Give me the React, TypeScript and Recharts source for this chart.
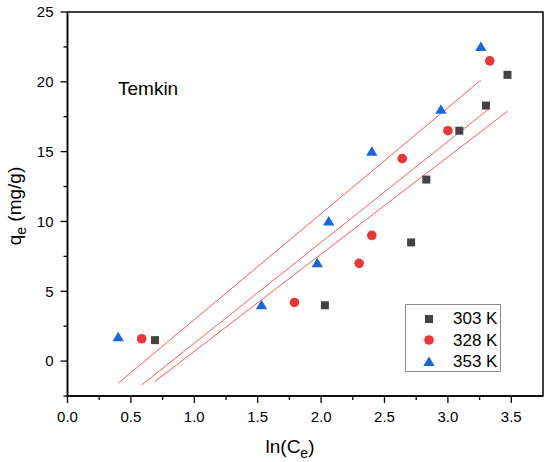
import React from 'react';
import { ScatterChart, Scatter, XAxis, YAxis, ReferenceArea, Legend } from 'recharts';

// ---- data ----
const seriesNames = ['303 K', '328 K', '353 K'];

const lnCe303 = [0.69, 2.03, 2.71, 2.83, 3.09, 3.3, 3.47];
const qe303 = [1.5, 4.0, 8.5, 13.0, 16.5, 18.3, 20.5];

const lnCe328 = [0.585, 1.79, 2.3, 2.4, 2.64, 3.0, 3.33];
const qe328 = [1.6, 4.2, 7.0, 9.0, 14.5, 16.5, 21.5];

const lnCe353 = [0.4, 1.53, 1.97, 2.06, 2.4, 2.945, 3.26];
const qe353 = [1.7, 4.0, 7.0, 10.0, 15.0, 18.0, 22.5];

const xMajorTicks = [0, 0.5, 1, 1.5, 2, 2.5, 3, 3.5];
const xMinorTicks = [0.25, 0.75, 1.25, 1.75, 2.25, 2.75, 3.25];
const yMajorTicks = [0, 5, 10, 15, 20, 25];
const yMinorTicks = [-2.5, 2.5, 7.5, 12.5, 17.5, 22.5];

const xDomain: [number, number] = [0, 3.75];
const yDomain: [number, number] = [-2.5, 25];

// ---- helpers ----
const toPoints = (xs: number[], ys: number[]) => xs.map((x, i) => ({ x, y: ys[i] }));

// least-squares linear fit over the series' x range
const linearFit = (xs: number[], ys: number[]) => {
  const n = xs.length;
  const mx = xs.reduce((a, b) => a + b, 0) / n;
  const my = ys.reduce((a, b) => a + b, 0) / n;
  let sxy = 0;
  let sxx = 0;
  for (let i = 0; i < n; i++) {
    sxy += (xs[i] - mx) * (ys[i] - my);
    sxx += (xs[i] - mx) * (xs[i] - mx);
  }
  const slope = sxy / sxx;
  const icpt = my - slope * mx;
  const x0 = Math.min(...xs);
  const x1 = Math.max(...xs);
  return [
    { x: x0, y: icpt + slope * x0 },
    { x: x1, y: icpt + slope * x1 },
  ];
};

const pts303 = toPoints(lnCe303, qe303);
const pts328 = toPoints(lnCe328, qe328);
const pts353 = toPoints(lnCe353, qe353);
const fit303 = linearFit(lnCe303, qe303);
const fit328 = linearFit(lnCe328, qe328);
const fit353 = linearFit(lnCe353, qe353);

const xTicks = [...xMajorTicks, ...xMinorTicks].sort((a, b) => a - b);
const yTicks = [...yMajorTicks, ...yMinorTicks].sort((a, b) => a - b);

const FONT = "Arial, 'Liberation Sans', sans-serif";
const C_SQ = '#444444';
const C_CI = '#ee3535';
const C_TR = '#1a66dc';
const C_FIT = '#ff5a5a';

const Square = (p: any) => (
  <rect x={p.cx - 4} y={p.cy - 4} width={8} height={8} fill={C_SQ} />
);
const Circle = (p: any) => <circle cx={p.cx} cy={p.cy} r={4.8} fill={C_CI} />;
const Triangle = (p: any) => (
  <polygon
    points={`${p.cx},${p.cy - 5.5} ${p.cx + 5.7},${p.cy + 4} ${p.cx - 5.7},${p.cy + 4}`}
    fill={C_TR}
  />
);
const Nothing = () => <g />;

const XTick = (props: any) => {
  const { x, y, payload } = props;
  const v = payload.value;
  const major = xMajorTicks.some((m) => Math.abs(m - v) < 1e-9);
  return (
    <g>
      <line x1={x} x2={x} y1={y} y2={y + (major ? 7 : 4)} stroke="#000" strokeWidth={1.3} />
      {major && (
        <text x={x} y={y + 26} textAnchor="middle" fontSize={15} fontFamily={FONT} fill="#000">
          {v.toFixed(1)}
        </text>
      )}
    </g>
  );
};

const YTick = (props: any) => {
  const { x, y, payload } = props;
  const v = payload.value;
  const major = yMajorTicks.some((m) => Math.abs(m - v) < 1e-9);
  return (
    <g>
      <line x1={x - (major ? 7 : 4)} x2={x} y1={y} y2={y} stroke="#000" strokeWidth={1.3} />
      {major && (
        <text x={x - 14} y={y + 5.3} textAnchor="end" fontSize={15} fontFamily={FONT} fill="#000">
          {String(v)}
        </text>
      )}
    </g>
  );
};

const XTitle = () => (
  <text x={290} y={452.5} textAnchor="middle" fontSize={19} fontFamily={FONT} fill="#000">
    ln(C
    <tspan fontSize={14} dy={5}>e</tspan>
    <tspan dy={-5}>)</tspan>
  </text>
);

const YTitle = () => (
  <text
    x={206}
    y={21}
    transform="rotate(-90 0 0) translate(-412 0)"
    textAnchor="middle"
    fontSize={19}
    fontFamily={FONT}
    fill="#000"
  >
    q
    <tspan fontSize={14} dy={5}>e</tspan>
    <tspan dy={-5}> (mg/g)</tspan>
  </text>
);

const Temkin = () => (
  <text x={118} y={95} fontSize={19} fontFamily={FONT} fill="#000">
    Temkin
  </text>
);

const legendItems = [
  { name: seriesNames[0], shape: 'square', color: C_SQ },
  { name: seriesNames[1], shape: 'circle', color: C_CI },
  { name: seriesNames[2], shape: 'triangle', color: C_TR },
];

const LegendBox = () => (
  <div
    style={{
      position: 'relative',
      width: 96,
      height: 68,
      border: '1px solid #8c8c8c',
      boxSizing: 'border-box',
      background: '#fff',
      fontFamily: FONT,
      fontSize: 17,
      color: '#000',
    }}
  >
    {legendItems.map((it, i) => (
      <div
        key={it.name}
        style={{
          position: 'absolute',
          left: 0,
          top: 3 + i * 21.5,
          height: 21,
          width: 94,
          display: 'flex',
          alignItems: 'center',
        }}
      >
        <svg width={14} height={14} style={{ position: 'absolute', left: 15.5, top: 3.5 }}>
          {it.shape === 'square' && <rect x={3} y={3} width={8} height={8} fill={it.color} />}
          {it.shape === 'circle' && <circle cx={7} cy={7} r={4.8} fill={it.color} />}
          {it.shape === 'triangle' && <polygon points="7,1.5 12.7,11 1.3,11" fill={it.color} />}
        </svg>
        <span style={{ position: 'absolute', left: 47, lineHeight: '21px', top: 0 }}>{it.name}</span>
      </div>
    ))}
  </div>
);

export default function App() {
  return (
    <div style={{ position: 'absolute', left: 0, top: 0, width: 550, height: 462, background: '#fff' }}>
      <ScatterChart width={550} height={462} margin={{ top: 12, right: 7, bottom: 0, left: 0 }}>
        <XAxis
          type="number"
          dataKey="x"
          domain={xDomain}
          ticks={xTicks}
          interval={0}
          height={66}
          tickSize={0}
          tickMargin={0}
          tickLine={false}
          tick={<XTick />}
          axisLine={{ stroke: '#000', strokeWidth: 1.5 }}
          allowDataOverflow
          label={<XTitle />}
        />
        <YAxis
          type="number"
          dataKey="y"
          domain={yDomain}
          ticks={yTicks}
          interval={0}
          width={67.5}
          tickSize={0}
          tickMargin={0}
          tickLine={false}
          tick={<YTick />}
          axisLine={{ stroke: '#000', strokeWidth: 1.5 }}
          allowDataOverflow
          label={<YTitle />}
        />
        <ReferenceArea
          x1={xDomain[0]}
          x2={xDomain[1]}
          y1={yDomain[0]}
          y2={yDomain[1]}
          fill="none"
          fillOpacity={0}
          stroke="#000"
          strokeWidth={1.5}
          label={<Temkin />}
        />
        <Scatter data={fit303} line={{ stroke: C_FIT, strokeWidth: 1 }} shape={<Nothing />} legendType="none" isAnimationActive={false} />
        <Scatter data={fit328} line={{ stroke: C_FIT, strokeWidth: 1 }} shape={<Nothing />} legendType="none" isAnimationActive={false} />
        <Scatter data={fit353} line={{ stroke: C_FIT, strokeWidth: 1 }} shape={<Nothing />} legendType="none" isAnimationActive={false} />
        <Scatter name={seriesNames[0]} data={pts303} shape={<Square />} isAnimationActive={false} />
        <Scatter name={seriesNames[1]} data={pts328} shape={<Circle />} isAnimationActive={false} />
        <Scatter name={seriesNames[2]} data={pts353} shape={<Triangle />} isAnimationActive={false} />
        <Legend
          layout="horizontal"
          verticalAlign="middle"
          align="center"
          content={<LegendBox />}
          wrapperStyle={{ left: 405, top: 304, width: 96, height: 68, right: 'auto', bottom: 'auto' }}
        />
      </ScatterChart>
    </div>
  );
}
